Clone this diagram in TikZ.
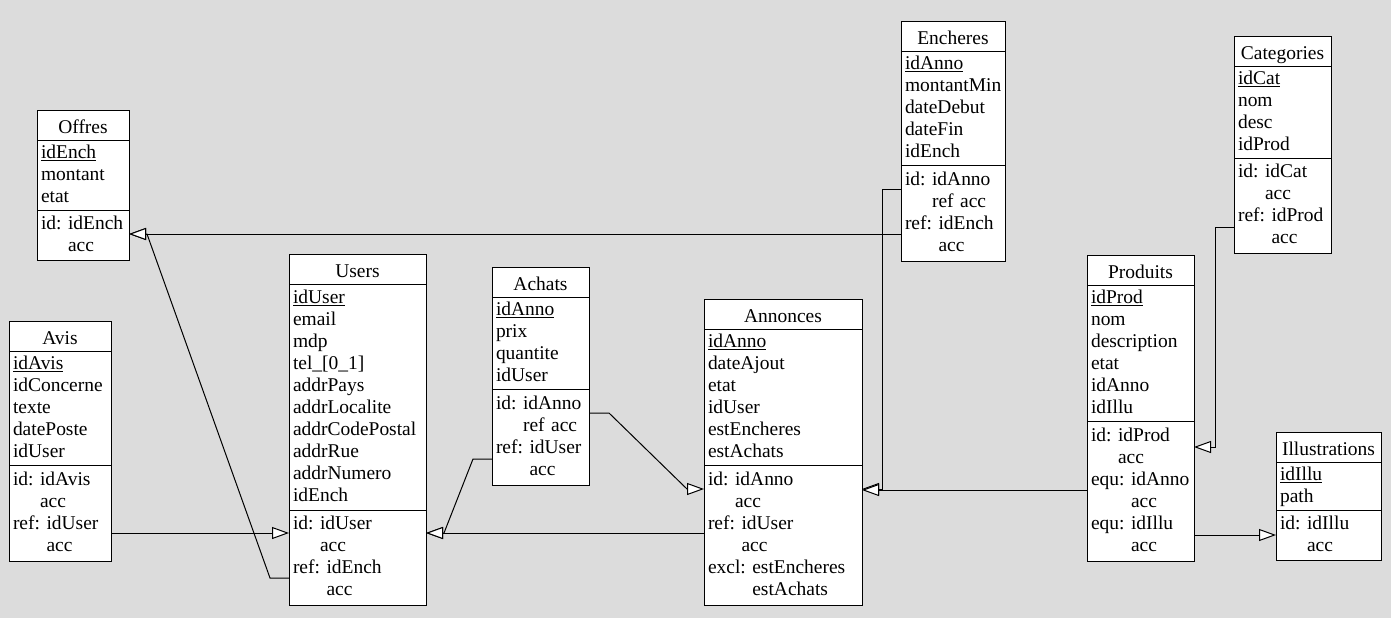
\documentclass[tikz,border=0pt]{standalone}
\usepackage{fontspec}
\setmainfont{Liberation Serif}
\usetikzlibrary{arrows.meta,calc}
\definecolor{bg}{RGB}{220,220,220}
\frenchspacing
\newcommand\efont{\fontsize{14.6pt}{16.5pt}\selectfont\frenchspacing}
\newcommand\rw{\rule[-4.5pt]{0pt}{16.5pt}}
\newcommand\ind[2]{\hphantom{#1~}#2}
\tikzset{
  etitle/.style={draw, fill=white, line width=0.75pt, anchor=north west, outer sep=0pt,
    inner xsep=3pt, inner ysep=0pt, text height=17.25pt, text depth=5.25pt,
    align=center, font=\efont},
  esec/.style={draw, fill=white, line width=0.75pt, anchor=north west, outer sep=0pt,
    inner xsep=3pt, inner ysep=1.5pt, align=left, font=\efont},
  fk/.style={line width=0.75pt, -{Triangle[length=12.75pt,width=9pt,fill=white,line width=0.75pt]}}
}
% #1 name, #2 position, #3 width(px), #4 title, #5 attr height, #6 attrs, #7 cons height, #8 cons
\newcommand\entity[8]{%
  \pgfmathsetlengthmacro\eW{#3*0.75pt}%
  \pgfmathsetlengthmacro\eT{#3*0.75pt-6pt}%
  \pgfmathsetlengthmacro\eA{#5*0.75pt}%
  \pgfmathsetlengthmacro\eC{#7*0.75pt}%
  \node[etitle, minimum width=\eW, text width=\eT] (#1-t) at #2 {#4};
  \node[esec, minimum height=\eA, text width=\eT] (#1-a) at (#1-t.south west) {#6};
  \node[esec, minimum height=\eC, text width=\eT] (#1-c) at (#1-a.south west) {#8};
}
\begin{document}
\begin{tikzpicture}[x=0.75pt,y=-0.75pt]
\useasboundingbox[fill=bg] (0,0) rectangle (1391,618);

\entity{offres}{(37,110)}{92}{Offres}{70}
  {\rw\underline{idEnch}\\\rw montant\\\rw etat}{50}
  {\rw id:~idEnch\\\rw\ind{id:}{acc}}

\entity{users}{(289,254)}{137}{Users}{226}
  {\rw\underline{idUser}\\\rw email\\\rw mdp\\\rw tel\_[0\_1]\\\rw addrPays\\\rw addrLocalite\\\rw addrCodePostal\\\rw addrRue\\\rw addrNumero\\\rw idEnch}{95}
  {\rw id:~idUser\\\rw\ind{id:}{acc}\\\rw ref:~idEnch\\\rw\ind{ref:}{acc}}

\entity{avis}{(9,321)}{102}{Avis}{114}
  {\rw\underline{idAvis}\\\rw idConcerne\\\rw texte\\\rw datePoste\\\rw idUser}{96}
  {\rw id:~idAvis\\\rw\ind{id:}{acc}\\\rw ref:~idUser\\\rw\ind{ref:}{acc}}

\entity{achats}{(492,267)}{97}{Achats}{92}
  {\rw\underline{idAnno}\\\rw prix\\\rw quantite\\\rw idUser}{96}
  {\rw id:~idAnno\\\rw\ind{id:}{ref~acc}\\\rw ref:~idUser\\\rw\ind{ref:}{acc}}

\entity{annonces}{(704,299)}{158}{Annonces}{136}
  {\rw\underline{idAnno}\\\rw dateAjout\\\rw etat\\\rw idUser\\\rw estEncheres\\\rw estAchats}{140}
  {\rw id:~idAnno\\\rw\ind{id:}{acc}\\\rw ref:~idUser\\\rw\ind{ref:}{acc}\\\rw excl:~estEncheres\\\rw\ind{excl:}{estAchats}}

\entity{encheres}{(901,21)}{104}{Encheres}{114}
  {\rw\underline{idAnno}\\\rw montantMin\\\rw dateDebut\\\rw dateFin\\\rw idEnch}{96}
  {\rw id:~idAnno\\\rw\ind{id:}{ref~acc}\\\rw ref:~idEnch\\\rw\ind{ref:}{acc}}

\entity{categories}{(1234,36)}{97}{Categories}{92}
  {\rw\underline{idCat}\\\rw nom\\\rw desc\\\rw idProd}{95}
  {\rw id:~idCat\\\rw\ind{id:}{acc}\\\rw ref:~idProd\\\rw\ind{ref:}{acc}}

\entity{produits}{(1087,255)}{107}{Produits}{136}
  {\rw\underline{idProd}\\\rw nom\\\rw description\\\rw etat\\\rw idAnno\\\rw idIllu}{140}
  {\rw id:~idProd\\\rw\ind{id:}{acc}\\\rw equ:~idAnno\\\rw\ind{equ:}{acc}\\\rw equ:~idIllu\\\rw\ind{equ:}{acc}}

\entity{illustrations}{(1276,432)}{105}{Illustrations}{48}
  {\rw\underline{idIllu}\\\rw path}{50}
  {\rw id:~idIllu\\\rw\ind{id:}{acc}}

% connectors
\draw[fk] ($(encheres-c.north west)+(0,69)$) coordinate (e1) -- (offres-c.east |- e1);
\draw[fk] ($(users-c.north west)+(0,68)$) -- ++(-19,0) -- ($(offres-c.north east)+(18,24)$) -- ($(offres-c.north east)+(0,24)$);
\draw[fk] ($(avis-c.north east)+(0,68)$) coordinate (a1) -- (users-c.west |- a1);
\draw[fk] ($(achats-c.north west)+(0,70)$) -- ++(-19,0) -- ($(users-c.north east)+(18,23)$) -- ($(users-c.north east)+(0,23)$);
\draw[fk] ($(annonces-c.north west)+(0,68)$) coordinate (n1) -- (users-c.east |- n1);
\draw[fk] ($(achats-c.north east)+(0,24)$) -- ++(20,0) -- ($(annonces-c.north west)+(-17,24)$) -- ($(annonces-c.north west)+(0,24)$);
\draw[fk] ($(encheres-c.north west)+(0,24)$) -- ++(-19,0) |- ($(annonces-c.north east)+(0,24)$);
\draw[fk] ($(produits-c.north west)+(0,69)$) coordinate (r1) -- (annonces-c.east |- r1);
\draw[fk] ($(categories-c.north west)+(0,69)$) -- ++(-19,0) |- ($(produits-c.north east)+(0,26)$);
\draw[fk] ($(produits-c.north east)+(0,114)$) coordinate (r2) -- (illustrations-c.west |- r2);
\end{tikzpicture}
\end{document}
